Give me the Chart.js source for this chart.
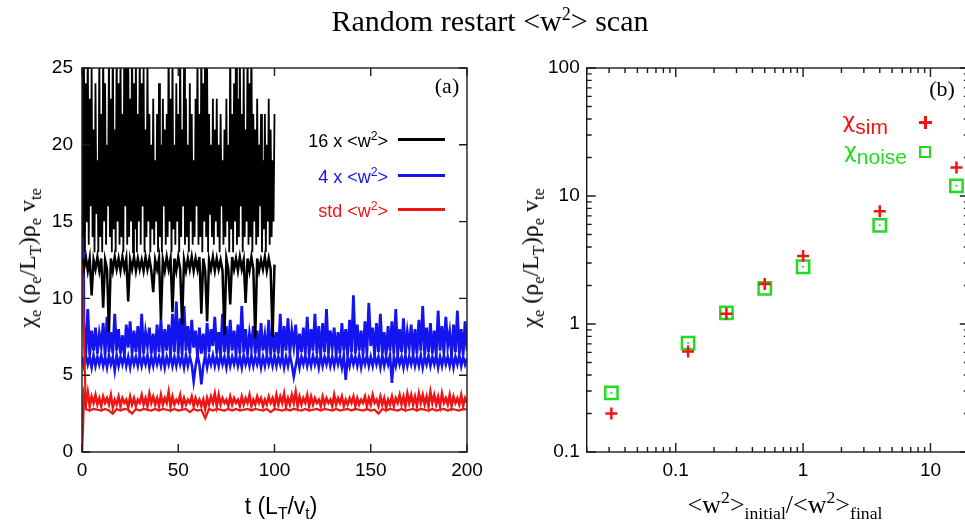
<!DOCTYPE html>
<html lang="en">
<head>
<meta charset="UTF-8">
<title>Random restart &lt;w²&gt; scan</title>
<script src="https://cdn.jsdelivr.net/npm/chart.js"></script>
<style>
  html, body { margin: 0; padding: 0; background: #fff; }
  body { width: 965px; height: 527px; overflow: hidden; position: relative; }
  canvas { position: absolute; top: 0; }
  #chartA { left: 0; }
  #chartB { left: 480px; }
  .txt { position: absolute; white-space: nowrap; line-height: 1; color: #000; }
  .c { transform: translate(-50%, -50%); }
  .r { transform: translate(-100%, -50%); }
  .rot { transform: translate(-50%, -50%) rotate(-90deg); }
  .serif { font-family: "Liberation Serif", "DejaVu Serif", serif; }
  .sans { font-family: "Liberation Sans", Arial, sans-serif; }
  sub, sup { font-size: 0.68em; line-height: 0; }
  .lineKey { position: absolute; height: 3px; width: 47px; left: 398px; }
</style>
</head>
<body>
<canvas id="chartA" width="490" height="527"></canvas>
<canvas id="chartB" width="500" height="527"></canvas>

<div class="txt serif c" style="left:490px; top:21px; font-size:30px;">Random restart &lt;w<sup style="font-size:0.6em">2</sup>&gt; scan</div>

<!-- panel (a) texts -->
<div class="txt serif c" style="left:447px; top:86px; font-size:22px;">(a)</div>
<div class="txt sans r" style="left:388px; top:141px; font-size:18px; color:#000;">16 x &lt;w<sup>2</sup>&gt;</div>
<div class="txt sans r" style="left:388px; top:177px; font-size:18px; color:#1414f0;">4 x &lt;w<sup>2</sup>&gt;</div>
<div class="txt sans r" style="left:388px; top:211px; font-size:18px; color:#f01414;">std &lt;w<sup>2</sup>&gt;</div>
<div class="lineKey" style="top:138px; background:#000;"></div>
<div class="lineKey" style="top:174px; background:#1414f0;"></div>
<div class="lineKey" style="top:208px; background:#f01414;"></div>
<div class="txt serif rot" style="left:27px; top:258px; font-size:24px;">χ<sub>e</sub> (ρ<sub>e</sub>/L<sub>T</sub>)ρ<sub>e</sub> v<sub>te</sub></div>
<div class="txt sans c" style="left:281px; top:506px; font-size:23px;">t (L<sub>T</sub>/v<sub>t</sub>)</div>

<!-- panel (b) texts -->
<div class="txt serif c" style="left:942px; top:89px; font-size:22px;">(b)</div>
<div class="txt r" style="left:888px; top:121px; color:#f01414;"><span style="font-family:'DejaVu Sans',sans-serif; font-size:22px;">χ</span><span class="sans" style="font-size:21px; position:relative; top:6px;">sim</span></div>
<div class="txt r" style="left:907px; top:151px; color:#20dd20;"><span style="font-family:'DejaVu Sans',sans-serif; font-size:22px;">χ</span><span class="sans" style="font-size:21px; position:relative; top:6px;">noise</span></div>
<div style="position:absolute; left:919px; top:121px; width:13px; height:2.5px; background:#f01414;"></div>
<div style="position:absolute; left:924px; top:116px; width:2.5px; height:13px; background:#f01414;"></div>
<div style="position:absolute; left:919px; top:146px; width:8px; height:8px; border:2.5px solid #20dd20;"></div>
<div class="txt serif rot" style="left:530px; top:258px; font-size:24px;">χ<sub>e</sub> (ρ<sub>e</sub>/L<sub>T</sub>)ρ<sub>e</sub> v<sub>te</sub></div>
<div class="txt serif c" style="left:785px; top:505px; font-size:26px;">&lt;w<sup>2</sup>&gt;<sub>initial</sub>/&lt;w<sup>2</sup>&gt;<sub>final</sub></div>

<script>
// ---- panel (a): time traces, chi_e vs t ----
const stepBlackSim = 0.5;
const blackSim = [
  30, 14, 26, 13, 24, 15, 27, 13.5, 23, 16,
  25, 14, 21, 13, 24, 15.5, 19, 13, 26, 14,
  22, 13, 27, 15, 24, 13.5, 20, 16, 26, 14,
  23, 13, 28, 14.5, 21, 13, 27, 15, 24, 13.5,
  26, 14, 22, 13, 28, 16, 25, 13.5, 27, 14,
  23, 15, 28, 13, 24, 14.5, 26, 13, 22, 15,
  27, 13.5, 24, 16, 25, 13, 21, 14, 26, 15,
  22, 13, 20, 14.5, 23, 13.5, 19, 15, 22, 13,
  24, 14, 20, 13, 23, 16, 21, 13.5, 22, 14,
  27, 15, 23, 13, 26, 14.5, 20, 13.5, 24, 15,
  22, 13, 27, 14, 21, 16, 25, 13.5, 23, 14,
  20, 13, 24, 15, 22, 13.5, 19, 14, 23, 16,
  26, 13.5, 22, 14, 27, 13, 24, 15, 28, 14,
  25, 13, 22, 15.5, 20, 14, 23, 13.5, 21, 15,
  23, 14, 20, 13, 22, 16, 19, 13.5, 21, 14,
  23, 15, 20, 13, 27, 14.5, 22, 13, 24, 15,
  28, 13.5, 23, 14, 26, 16, 22, 13, 25, 14,
  21, 15, 27, 13.5, 24, 14, 28, 13, 22, 15,
  21, 13.5, 23, 14, 20, 16, 22, 13, 19, 14.5,
  22, 13, 20, 15, 23, 13.5, 21, 14, 19, 15,
  22
];
const stepBlackNoise = 1;
const blackNoise = [
  12.6, 11.9, 12.7, 11.8, 12.6, 10.2, 12.5, 11.9, 12.7, 11.8, 12.6, 9.4, 12.5, 11.9, 7.8, 12.6, 11.8, 12.7, 11.9, 12.6,
  11.8, 12.7, 11.9, 12.6, 9.8, 12.5, 11.9, 12.7, 11.8, 12.6, 11.9, 12.5, 11.8, 12.7, 11.9, 12.6, 11.8, 10.4, 12.5, 11.9,
  12.6, 8.6, 12.5, 11.8, 12.7, 11.9, 12.6, 9.1, 12.6, 11.8, 12.7, 11.9, 8.3, 12.5, 11.8, 12.6, 11.9, 12.7, 11.8, 12.6,
  11.9, 12.7, 9.0, 12.6, 11.8, 8.5, 12.5, 11.9, 12.7, 11.8, 12.6, 11.9, 12.5, 11.8, 7.6, 12.6, 11.9, 9.6, 12.7, 11.9,
  12.6, 11.8, 12.7, 11.9, 12.5, 9.7, 12.6, 11.8, 12.7, 11.9, 7.4, 12.6, 11.8, 12.5, 11.9, 12.7, 11.8, 12.6, 11.9, 7.5,
  12.2
];
const stepBlueSim = 1;
const blueSim = [
  30,
  8.2, 6.4, 9.3, 6.3, 7.9, 6.6, 8.1, 6.4, 7.7, 6.9, 8.4, 6.3, 8.8, 6.5, 7.8, 6.4, 9.0, 6.6, 8.0, 6.4,
  7.6, 6.3, 8.3, 6.8, 8.5, 6.4, 7.9, 6.5, 8.2, 6.3, 9.0, 6.4, 7.8, 6.9, 8.1, 6.4, 7.7, 6.3, 8.3, 6.5,
  8.6, 6.4, 8.0, 6.6, 8.3, 6.3, 9.0, 6.5, 9.8, 6.4, 8.7, 6.3, 9.5, 6.6, 8.2, 6.4, 8.6, 6.8, 7.9, 6.2,
  8.1, 6.4, 7.7, 6.3, 8.4, 6.5, 8.0, 6.9, 8.8, 6.4, 7.8, 6.3, 9.0, 6.5, 8.2, 6.4, 8.6, 6.6, 7.9, 6.3,
  8.3, 6.4, 9.5, 6.5, 8.0, 6.3, 7.7, 6.8, 8.2, 6.4, 7.9, 6.3, 8.4, 6.6, 7.6, 6.4, 8.6, 6.3, 8.1, 6.5,
  7.8, 6.4, 9.0, 6.3, 8.2, 6.6, 8.7, 6.4, 7.9, 6.9, 8.3, 6.3, 7.7, 6.5, 8.1, 6.4, 8.8, 6.3, 8.0, 6.6,
  9.0, 6.4, 8.2, 6.3, 8.4, 6.5, 9.3, 6.4, 7.9, 6.8, 8.1, 6.3, 7.8, 6.4, 8.4, 6.6, 8.0, 6.3, 8.6, 6.5,
  10.2, 6.4, 8.3, 6.6, 7.9, 6.3, 8.5, 6.4, 9.7, 6.9, 8.1, 6.3, 8.4, 6.5, 9.0, 6.4, 7.8, 6.3, 8.2, 6.6,
  8.5, 6.4, 9.3, 6.3, 8.0, 6.5, 8.7, 6.4, 7.8, 6.8, 8.3, 6.3, 8.0, 6.4, 8.6, 6.6, 9.5, 6.3, 8.1, 6.5,
  8.4, 6.4, 7.9, 6.3, 9.2, 6.6, 8.2, 6.4, 8.8, 6.9, 7.8, 6.3, 8.3, 6.5, 9.2, 6.4, 8.0, 6.3, 8.5, 6.6
];
const stepBlueNoise = 1;
const blueNoise = [
  6.2, 5.6, 6.3, 5.7, 6.2, 5.5, 6.3, 5.6, 6.2, 5.7, 6.3, 5.6, 6.2, 5.5, 6.3, 5.7, 6.2, 5.3, 6.3, 5.6,
  6.2, 5.7, 6.3, 5.6, 6.2, 5.5, 6.3, 5.7, 6.2, 5.6, 6.3, 5.6, 6.2, 5.7, 6.3, 5.5, 6.2, 5.6, 6.3, 5.7,
  6.2, 5.6, 6.3, 5.5, 6.2, 5.7, 6.3, 5.6, 6.2, 5.6, 6.3, 5.7, 6.2, 5.5, 6.3, 5.6, 6.2, 5.7, 4.6, 5.6,
  6.3, 5.7, 4.4, 5.6, 6.3, 5.5, 6.2, 5.7, 6.3, 5.6, 6.2, 5.6, 6.3, 5.7, 6.2, 5.5, 6.3, 5.6, 6.2, 5.7,
  6.3, 5.6, 6.2, 5.5, 6.3, 5.7, 6.2, 5.6, 6.3, 5.6, 6.2, 5.7, 6.3, 5.5, 6.2, 5.6, 6.3, 5.7, 6.2, 5.6,
  6.3, 5.6, 6.2, 5.7, 6.3, 5.5, 6.2, 5.6, 6.3, 5.7, 4.9, 5.6, 6.3, 5.5, 6.2, 5.7, 6.3, 5.6, 6.2, 5.6,
  6.3, 5.7, 6.2, 5.5, 6.3, 5.6, 6.2, 5.7, 6.3, 5.6, 6.2, 5.6, 6.3, 5.7, 6.2, 5.5, 6.3, 4.7, 6.2, 5.6,
  6.3, 5.7, 6.2, 5.6, 6.3, 5.5, 6.2, 5.7, 6.3, 5.6, 6.2, 5.6, 6.3, 5.7, 6.2, 5.5, 6.3, 5.6, 6.2, 5.7,
  6.3, 4.5, 6.2, 5.6, 6.3, 5.7, 6.2, 5.5, 6.3, 5.6, 6.2, 5.7, 6.3, 5.6, 6.2, 5.6, 6.3, 5.5, 6.2, 5.7,
  6.3, 5.6, 6.2, 5.7, 6.3, 5.5, 6.2, 5.6, 6.3, 5.7, 6.2, 5.6, 6.3, 5.5, 6.2, 5.7, 6.3, 5.6, 6.2, 5.7,
  6.1
];
const stepRedSim = 1;
const redSim = [
  0,
  3.7, 3.1, 3.9, 3.0, 3.6, 3.2, 3.7, 3.1, 3.5, 3.0, 3.6, 3.2, 3.5, 3.1, 3.7, 2.9, 3.4, 3.1, 3.6, 3.0,
  3.5, 3.2, 3.4, 2.9, 3.6, 3.1, 3.5, 3.0, 3.4, 3.2, 3.7, 3.1, 3.5, 3.0, 3.8, 3.2, 3.6, 3.1, 3.5, 3.0,
  3.7, 3.1, 3.5, 3.2, 3.9, 3.0, 3.6, 3.1, 3.4, 3.2, 3.7, 3.0, 3.5, 3.1, 3.4, 3.2, 3.6, 3.0, 3.5, 3.1,
  3.4, 3.0, 3.4, 2.8, 3.5, 3.1, 3.6, 3.2, 3.8, 3.0, 3.7, 3.1, 3.5, 3.2, 3.4, 3.0, 3.6, 3.1, 3.5, 3.2,
  3.4, 3.0, 3.6, 3.1, 3.5, 3.2, 3.7, 3.0, 3.4, 3.1, 3.6, 3.2, 3.5, 3.0, 3.4, 3.1, 3.6, 3.2, 3.5, 3.0,
  3.7, 3.1, 3.6, 3.2, 3.8, 3.0, 3.5, 3.1, 3.7, 3.2, 3.9, 3.0, 3.6, 3.1, 3.5, 3.2, 3.7, 3.0, 3.6, 3.1,
  3.5, 3.2, 3.4, 3.0, 3.6, 3.1, 3.5, 3.2, 3.4, 3.0, 3.7, 3.1, 3.5, 3.2, 3.6, 3.0, 3.4, 3.1, 3.5, 3.2,
  3.6, 3.0, 3.5, 3.1, 3.4, 3.2, 3.6, 3.0, 3.5, 3.1, 3.7, 3.2, 3.4, 3.0, 3.6, 3.1, 3.5, 2.9, 3.4, 3.1,
  3.6, 3.0, 3.5, 3.2, 3.7, 3.1, 3.6, 3.0, 3.8, 3.2, 3.7, 3.1, 3.6, 3.0, 3.8, 3.2, 3.7, 3.1, 3.6, 3.0,
  3.9, 3.2, 3.7, 3.1, 3.6, 3.0, 3.8, 3.2, 3.5, 3.1, 3.7, 3.0, 3.6, 3.2, 3.5, 3.1, 3.7, 3.0, 3.5, 3.2
];
const stepRedNoise = 2;
const redNoise = [
  12.2, 2.8, 2.7, 2.8, 2.75, 2.7, 2.8, 2.7, 2.5, 2.8, 2.7, 2.8, 2.75, 2.5, 2.8, 2.7, 2.8, 2.75, 2.7, 2.8,
  2.7, 2.8, 2.75, 2.7, 2.8, 2.7, 2.75, 2.8, 2.6, 2.8, 2.7, 2.75, 2.2, 2.8, 2.7, 2.8, 2.75, 2.7, 2.8, 2.7,
  2.8, 2.7, 2.75, 2.8, 2.7, 2.8, 2.75, 2.7, 2.8, 2.6, 2.8, 2.75, 2.7, 2.8, 2.7, 2.8, 2.75, 2.7, 2.8, 2.7,
  2.75, 2.8, 2.7, 2.8, 2.75, 2.7, 2.8, 2.7, 2.75, 2.8, 2.7, 2.8, 2.75, 2.7, 2.8, 2.7, 2.75, 2.5, 2.8, 2.7,
  2.8, 2.75, 2.7, 2.8, 2.7, 2.75, 2.8, 2.7, 2.8, 2.75, 2.7, 2.8, 2.7, 2.75, 2.8, 2.7, 2.8, 2.75, 2.7, 2.8,
  2.75
];

// ---- panel (b): chi vs <w2> ratio ----
const ratio = [0.03125, 0.125, 0.25, 0.5, 1, 4, 16];
const chiSim = [0.2, 0.61, 1.2, 2.05, 3.4, 7.6, 16.7];
const chiNoise = [0.29, 0.71, 1.22, 1.9, 2.8, 5.9, 12.0];

const xTicksB = [0.02, 0.03, 0.04, 0.05, 0.06, 0.07, 0.08, 0.09, 0.1, 0.2, 0.3, 0.4, 0.5, 0.6, 0.7, 0.8, 0.9,
                 1, 2, 3, 4, 5, 6, 7, 8, 9, 10, 20];
const xMajorB = [0.1, 1, 10];
const yTicksB = [0.1, 0.2, 0.3, 0.4, 0.5, 0.6, 0.7, 0.8, 0.9, 1, 2, 3, 4, 5, 6, 7, 8, 9,
                 10, 20, 30, 40, 50, 60, 70, 80, 90, 100];
const yMajorB = [0.1, 1, 10, 100];

const BLACK = '#000000', BLUE = '#1414f0', RED = '#f01414', GREEN = '#20dd20';
const tickFont = { family: '"Liberation Sans", Arial, sans-serif', size: 19 };

const toXY = (vals, dt) => vals.map((v, i) => ({ x: i * dt, y: v }));
const pairs = (xs, ys) => xs.map((x, i) => ({ x: x, y: ys[i] }));

// box round the plot with inward ticks on all four sides (gnuplot style)
const frame = {
  id: 'frame',
  afterDatasetsDraw(chart, args, opts) {
    const { ctx, chartArea: a, scales } = chart;
    ctx.save();
    ctx.strokeStyle = '#1a1a1a';
    ctx.lineWidth = 1.4;
    ctx.beginPath();
    scales.x.ticks.forEach(t => {
      const px = scales.x.getPixelForValue(t.value);
      const l = (!opts.xMajors || opts.xMajors.includes(t.value)) ? opts.major : opts.minor;
      ctx.moveTo(px, a.bottom); ctx.lineTo(px, a.bottom - l);
      ctx.moveTo(px, a.top); ctx.lineTo(px, a.top + l);
    });
    scales.y.ticks.forEach(t => {
      const py = scales.y.getPixelForValue(t.value);
      const l = (!opts.yMajors || opts.yMajors.includes(t.value)) ? opts.major : opts.minor;
      ctx.moveTo(a.left, py); ctx.lineTo(a.left + l, py);
      ctx.moveTo(a.right, py); ctx.lineTo(a.right - l, py);
    });
    ctx.stroke();
    ctx.strokeRect(a.left, a.top, a.right - a.left, a.bottom - a.top);
    ctx.restore();
  }
};

const lineSet = (vals, dt, color, order, width) => ({
  data: toXY(vals, dt),
  borderColor: color,
  borderWidth: width,
  pointRadius: 0,
  tension: 0,
  order: order
});

new Chart(document.getElementById('chartA'), {
  type: 'line',
  data: {
    datasets: [
      lineSet(blueSim, stepBlueSim, BLUE, 3, 2.8),
      lineSet(blueNoise, stepBlueNoise, BLUE, 3, 2.6),
      lineSet(blackSim, stepBlackSim, BLACK, 2, 1.8),
      lineSet(blackNoise, stepBlackNoise, BLACK, 2, 2.5),
      lineSet(redSim, stepRedSim, RED, 1, 2.6),
      lineSet(redNoise, stepRedNoise, RED, 1, 2.2)
    ]
  },
  options: {
    responsive: false,
    animation: false,
    layout: { padding: { top: 68, right: 23, left: 0, bottom: 0 } },
    scales: {
      x: {
        type: 'linear', min: 0, max: 200,
        grid: { display: false, drawTicks: false },
        border: { display: false },
        ticks: { stepSize: 50, padding: 7, color: '#000', font: tickFont, maxRotation: 0 },
        afterFit: s => { s.height = 75; }
      },
      y: {
        min: 0, max: 25,
        grid: { display: false, drawTicks: false },
        border: { display: false },
        ticks: { stepSize: 5, padding: 9, color: '#000', font: tickFont },
        afterFit: s => { s.width = 82; }
      }
    },
    plugins: {
      legend: { display: false },
      tooltip: { enabled: false },
      frame: { major: 8, minor: 8 }
    }
  },
  plugins: [frame]
});

new Chart(document.getElementById('chartB'), {
  type: 'scatter',
  data: {
    datasets: [
      {
        data: pairs(ratio, chiSim),
        pointStyle: 'cross', pointRadius: 6, borderWidth: 2.5,
        borderColor: RED, backgroundColor: RED, order: 0
      },
      {
        data: pairs(ratio, chiNoise),
        pointStyle: 'rect', pointRadius: 8.7, borderWidth: 2.5,
        borderColor: GREEN, backgroundColor: 'rgba(0,0,0,0)', order: 1
      },
      {
        data: pairs(ratio, chiNoise),
        pointStyle: 'circle', pointRadius: 1.1, borderWidth: 0,
        borderColor: GREEN, backgroundColor: GREEN, order: 2
      }
    ]
  },
  options: {
    responsive: false,
    animation: false,
    layout: { padding: { top: 68, right: 9.5, left: 0, bottom: 0 } },
    scales: {
      x: {
        type: 'logarithmic', min: 0.02, max: 20,
        grid: { display: false, drawTicks: false },
        border: { display: false },
        afterBuildTicks: s => { s.ticks = xTicksB.map(v => ({ value: v })); },
        ticks: {
          autoSkip: false, maxRotation: 0, padding: 7, color: '#000', font: tickFont,
          callback: v => xMajorB.includes(v) ? String(v) : ''
        },
        afterFit: s => { s.height = 75; }
      },
      y: {
        type: 'logarithmic', min: 0.1, max: 100,
        grid: { display: false, drawTicks: false },
        border: { display: false },
        afterBuildTicks: s => { s.ticks = yTicksB.map(v => ({ value: v })); },
        ticks: {
          autoSkip: false, padding: 7, color: '#000', font: tickFont,
          callback: v => yMajorB.includes(v) ? String(v) : ''
        },
        afterFit: s => { s.width = 106.7; }
      }
    },
    plugins: {
      legend: { display: false },
      tooltip: { enabled: false },
      frame: { major: 9, minor: 5, xMajors: xMajorB, yMajors: yMajorB }
    }
  },
  plugins: [frame]
});
</script>
</body>
</html>
